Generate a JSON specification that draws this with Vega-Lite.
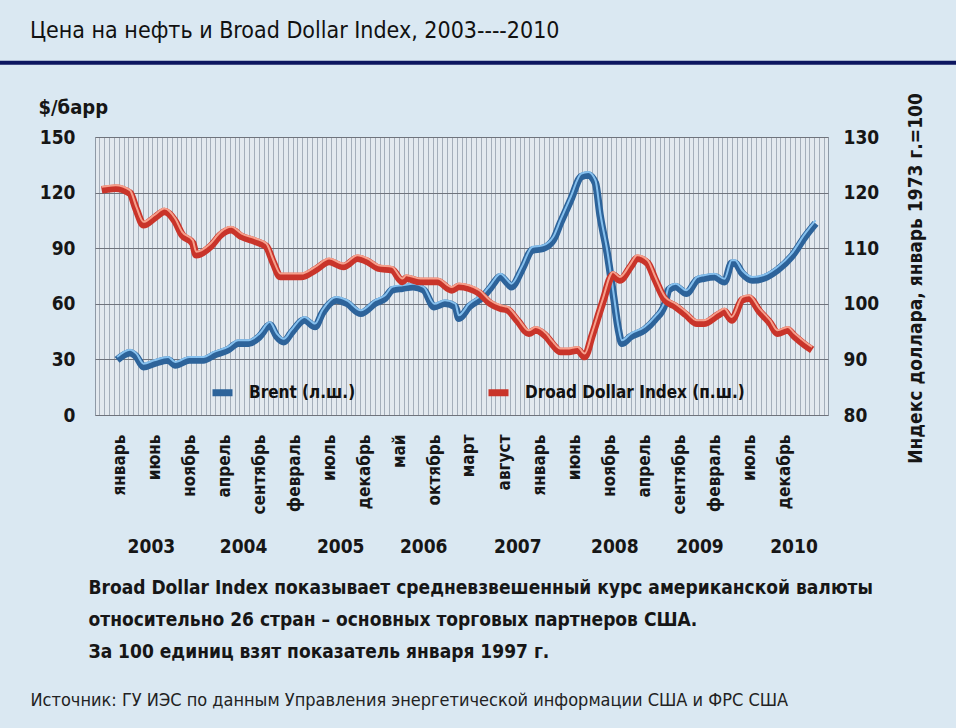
{
  "$schema": "https://vega.github.io/schema/vega-lite/v6.json",
  "width": 733,
  "height": 278,
  "autosize": {"type": "none"},
  "padding": {"left": 95, "top": 137, "right": 128, "bottom": 313},
  "background": "#dae8f2",
  "config": {
    "font": "DejaVu Sans Condensed, Liberation Sans, sans-serif",
    "view": {"fill": "#e3e9ef", "stroke": "#8e99a6", "strokeWidth": 1},
    "axis": {
      "labelFont": "DejaVu Sans Condensed, Liberation Sans, sans-serif",
      "titleFont": "DejaVu Sans Condensed, Liberation Sans, sans-serif",
      "labelFontWeight": "bold",
      "titleFontWeight": "bold",
      "labelColor": "#161616",
      "titleColor": "#161616",
      "ticks": false,
      "domain": false
    },
    "legend": {"labelFont": "DejaVu Sans Condensed, Liberation Sans, sans-serif"}
  },
  "title": {
    "text": "Цена на нефть и Broad Dollar Index, 2003----2010",
    "anchor": "start",
    "frame": "group",
    "dx": -65,
    "offset": 18,
    "fontSize": 23,
    "fontWeight": "normal",
    "font": "DejaVu Sans Condensed, Liberation Sans, sans-serif",
    "color": "#111111"
  },
  "datasets": {
    "brent": [
      {"d": "2002-12-22", "v": 29.7}, {"d": "2003-02-16", "v": 33.6}, {"d": "2003-03-16", "v": 31.5},
      {"d": "2003-04-16", "v": 26.1}, {"d": "2003-06-01", "v": 27.9}, {"d": "2003-08-01", "v": 29.7},
      {"d": "2003-09-01", "v": 27.0}, {"d": "2003-11-01", "v": 29.7}, {"d": "2004-01-01", "v": 29.7},
      {"d": "2004-02-16", "v": 32.4}, {"d": "2004-04-16", "v": 35.1}, {"d": "2004-06-01", "v": 38.7},
      {"d": "2004-07-16", "v": 38.7}, {"d": "2004-09-01", "v": 42.3}, {"d": "2004-10-16", "v": 48.5},
      {"d": "2004-11-16", "v": 42.3}, {"d": "2004-12-16", "v": 39.5}, {"d": "2005-01-16", "v": 44.1},
      {"d": "2005-03-16", "v": 51.3}, {"d": "2005-05-01", "v": 47.7}, {"d": "2005-06-01", "v": 54.9},
      {"d": "2005-08-01", "v": 62.1}, {"d": "2005-09-16", "v": 60.3}, {"d": "2005-11-16", "v": 54.9},
      {"d": "2006-01-16", "v": 60.3}, {"d": "2006-03-01", "v": 63.0}, {"d": "2006-04-01", "v": 67.5},
      {"d": "2006-05-16", "v": 68.4}, {"d": "2006-07-01", "v": 69.2}, {"d": "2006-08-16", "v": 67.5},
      {"d": "2006-10-01", "v": 58.4}, {"d": "2006-11-16", "v": 60.3}, {"d": "2007-01-01", "v": 58.4},
      {"d": "2007-01-16", "v": 52.2}, {"d": "2007-03-01", "v": 58.4}, {"d": "2007-05-01", "v": 63.8},
      {"d": "2007-06-01", "v": 68.4}, {"d": "2007-07-16", "v": 74.6}, {"d": "2007-08-16", "v": 71.1},
      {"d": "2007-09-01", "v": 69.2}, {"d": "2007-10-16", "v": 78.2}, {"d": "2007-12-01", "v": 89.0},
      {"d": "2008-01-16", "v": 89.9}, {"d": "2008-03-01", "v": 94.4}, {"d": "2008-04-01", "v": 103.4},
      {"d": "2008-05-16", "v": 116.0}, {"d": "2008-07-01", "v": 128.6}, {"d": "2008-08-01", "v": 129.5},
      {"d": "2008-09-01", "v": 125.0}, {"d": "2008-09-22", "v": 107.0}, {"d": "2008-10-22", "v": 87.3},
      {"d": "2008-11-19", "v": 63.8}, {"d": "2008-12-10", "v": 45.9}, {"d": "2008-12-25", "v": 38.7},
      {"d": "2009-02-01", "v": 42.3}, {"d": "2009-04-01", "v": 45.9}, {"d": "2009-05-16", "v": 51.3},
      {"d": "2009-07-01", "v": 60.3}, {"d": "2009-07-16", "v": 67.5}, {"d": "2009-08-16", "v": 69.2},
      {"d": "2009-10-01", "v": 65.7}, {"d": "2009-11-16", "v": 72.8}, {"d": "2009-12-16", "v": 73.8},
      {"d": "2010-02-01", "v": 74.6}, {"d": "2010-03-16", "v": 71.9}, {"d": "2010-04-16", "v": 81.9},
      {"d": "2010-05-01", "v": 81.9}, {"d": "2010-06-01", "v": 76.5}, {"d": "2010-07-16", "v": 72.8},
      {"d": "2010-09-16", "v": 74.6}, {"d": "2010-11-01", "v": 78.2}, {"d": "2011-01-01", "v": 85.4},
      {"d": "2011-03-01", "v": 96.2}, {"d": "2011-04-16", "v": 103.4}
    ],
    "dollar": [
      {"d": "2002-10-16", "v": 120.5}, {"d": "2002-12-16", "v": 120.8}, {"d": "2003-02-16", "v": 119.9},
      {"d": "2003-03-16", "v": 116.9}, {"d": "2003-04-16", "v": 114.2}, {"d": "2003-06-01", "v": 115.4},
      {"d": "2003-07-16", "v": 116.6}, {"d": "2003-09-01", "v": 114.8}, {"d": "2003-10-01", "v": 112.4},
      {"d": "2003-11-16", "v": 110.9}, {"d": "2003-12-01", "v": 108.8}, {"d": "2004-02-01", "v": 110.3},
      {"d": "2004-03-16", "v": 112.4}, {"d": "2004-05-01", "v": 113.3}, {"d": "2004-06-16", "v": 112.1},
      {"d": "2004-08-16", "v": 111.2}, {"d": "2004-10-01", "v": 110.3}, {"d": "2004-11-01", "v": 107.3},
      {"d": "2004-12-01", "v": 104.9}, {"d": "2005-03-01", "v": 104.9}, {"d": "2005-05-01", "v": 106.1},
      {"d": "2005-07-01", "v": 107.6}, {"d": "2005-09-01", "v": 106.7}, {"d": "2005-11-01", "v": 108.2},
      {"d": "2005-12-16", "v": 107.6}, {"d": "2006-02-01", "v": 106.4}, {"d": "2006-04-01", "v": 106.1},
      {"d": "2006-05-16", "v": 104.0}, {"d": "2006-06-01", "v": 104.6}, {"d": "2006-08-01", "v": 104.0},
      {"d": "2006-10-16", "v": 104.0}, {"d": "2006-12-16", "v": 102.5}, {"d": "2007-01-16", "v": 103.1},
      {"d": "2007-03-01", "v": 102.8}, {"d": "2007-04-16", "v": 101.9}, {"d": "2007-06-01", "v": 100.1},
      {"d": "2007-07-16", "v": 99.2}, {"d": "2007-08-16", "v": 98.9}, {"d": "2007-10-01", "v": 96.8},
      {"d": "2007-11-16", "v": 94.7}, {"d": "2007-12-16", "v": 95.3}, {"d": "2008-02-01", "v": 94.1},
      {"d": "2008-03-01", "v": 92.6}, {"d": "2008-04-01", "v": 91.4}, {"d": "2008-05-01", "v": 91.4},
      {"d": "2008-06-16", "v": 91.7}, {"d": "2008-07-16", "v": 90.5}, {"d": "2008-08-16", "v": 94.1},
      {"d": "2008-10-01", "v": 100.1}, {"d": "2008-11-16", "v": 105.2}, {"d": "2008-12-16", "v": 104.3},
      {"d": "2009-02-01", "v": 106.7}, {"d": "2009-03-01", "v": 108.2}, {"d": "2009-04-16", "v": 107.3},
      {"d": "2009-05-16", "v": 104.6}, {"d": "2009-07-01", "v": 100.7}, {"d": "2009-08-16", "v": 99.5},
      {"d": "2009-10-01", "v": 98.0}, {"d": "2009-11-16", "v": 96.5}, {"d": "2009-12-16", "v": 96.5},
      {"d": "2010-02-16", "v": 98.0}, {"d": "2010-03-16", "v": 98.6}, {"d": "2010-04-16", "v": 97.1},
      {"d": "2010-06-01", "v": 100.7}, {"d": "2010-07-01", "v": 101.0}, {"d": "2010-08-16", "v": 98.6},
      {"d": "2010-10-01", "v": 96.5}, {"d": "2010-11-01", "v": 94.7}, {"d": "2010-12-16", "v": 95.3},
      {"d": "2011-01-16", "v": 94.1}, {"d": "2011-03-01", "v": 92.6}, {"d": "2011-04-01", "v": 91.7}
    ]
  },
  "resolve": {
    "scale": {"y": "independent"},
    "axis": {"x": "independent", "y": "independent"}
  },
  "layer": [
    {
      "data": {"name": "brent"},
      "mark": {"type": "point", "opacity": 0},
      "encoding": {
        "x": {
          "field": "d",
          "type": "temporal",
          "scale": {
            "type": "utc",
            "domain": [
              {"year": 2002, "month": 9, "date": 17, "utc": true},
              {"year": 2011, "month": 6, "date": 9, "utc": true}
            ]
          },
          "axis": {
            "orient": "bottom",
            "labels": false,
            "grid": true,
            "gridColor": "#a4aeba",
            "gridWidth": 1,
            "tickCount": {"interval": "week", "step": 3},
            "title": "Источник: ГУ ИЭС по данным Управления энергетической информации США и ФРС США",
            "titleFontWeight": "normal",
            "titleFontSize": 18,
            "titleColor": "#222222",
            "titleAlign": "left",
            "titleAnchor": "start",
            "titleBaseline": "middle",
            "titleX": -65,
            "titleY": 285
          }
        }
      }
    },
    {
      "data": {"values": [{}]},
      "mark": {"type": "rule", "clip": false, "color": "#0c1660", "strokeWidth": 4},
      "encoding": {
        "x": {"datum": {"year": 2001, "month": 1, "date": 1, "utc": true}, "type": "temporal", "axis": null},
        "x2": {"datum": {"year": 2013, "month": 6, "date": 1, "utc": true}},
        "y": {"datum": 190, "type": "quantitative", "scale": {"domain": [0, 150], "nice": false}, "axis": null}
      }
    },
    {
      "data": {"name": "brent"},
      "mark": {"type": "line", "strokeWidth": 7.5, "interpolate": "monotone", "strokeJoin": "round"},
      "encoding": {
        "x": {
          "field": "d",
          "type": "temporal",
          "axis": {
            "orient": "bottom",
            "values": [
              {"year": 2003, "month": 1, "date": 1, "utc": true},
              {"year": 2003, "month": 6, "date": 1, "utc": true},
              {"year": 2003, "month": 11, "date": 1, "utc": true},
              {"year": 2004, "month": 4, "date": 1, "utc": true},
              {"year": 2004, "month": 9, "date": 1, "utc": true},
              {"year": 2005, "month": 2, "date": 1, "utc": true},
              {"year": 2005, "month": 7, "date": 1, "utc": true},
              {"year": 2005, "month": 12, "date": 1, "utc": true},
              {"year": 2006, "month": 5, "date": 1, "utc": true},
              {"year": 2006, "month": 10, "date": 1, "utc": true},
              {"year": 2007, "month": 3, "date": 1, "utc": true},
              {"year": 2007, "month": 8, "date": 1, "utc": true},
              {"year": 2008, "month": 1, "date": 1, "utc": true},
              {"year": 2008, "month": 6, "date": 1, "utc": true},
              {"year": 2008, "month": 11, "date": 1, "utc": true},
              {"year": 2009, "month": 4, "date": 1, "utc": true},
              {"year": 2009, "month": 9, "date": 1, "utc": true},
              {"year": 2010, "month": 2, "date": 1, "utc": true},
              {"year": 2010, "month": 7, "date": 1, "utc": true},
              {"year": 2010, "month": 12, "date": 1, "utc": true}
            ],
            "labelExpr": "['январь','февраль','март','апрель','май','июнь','июль','август','сентябрь','октябрь','ноябрь','декабрь'][utcmonth(datum.value)]",
            "labelAngle": 270,
            "labelAlign": "right",
            "labelBaseline": "middle",
            "labelFontSize": 17,
            "labelPadding": 19,
            "grid": false,
            "title": null
          }
        },
        "y": {
          "field": "v",
          "type": "quantitative",
          "scale": {"domain": [0, 150], "nice": false},
          "axis": {
            "orient": "left",
            "values": [0, 30, 60, 90, 120, 150],
            "labelFontSize": 19,
            "labelPadding": 20,
            "grid": true,
            "gridColor": "#6f737c",
            "gridWidth": 1.2,
            "title": "$/барр",
            "titleAngle": 0,
            "titleAlign": "left",
            "titleBaseline": "alphabetic",
            "titleFontSize": 20,
            "titleX": -57,
            "titleY": -24
          }
        },
        "color": {
          "datum": "Brent (л.ш.)",
          "scale": {
            "domain": ["Brent (л.ш.)", "Droad Dollar Index (п.ш.)"],
            "range": ["#2d639a", "#c9342a"]
          },
          "legend": {
            "orient": "none",
            "legendX": 114,
            "legendY": 242,
            "direction": "horizontal",
            "title": null,
            "padding": 0,
            "symbolType": "stroke",
            "symbolStrokeWidth": 7,
            "symbolSize": 400,
            "labelFontSize": 17,
            "labelFontWeight": "bold",
            "labelColor": "#111111",
            "labelLimit": 400,
            "labelOffset": 13,
            "columnPadding": 118
          }
        }
      }
    },
    {
      "data": {"name": "brent"},
      "mark": {"type": "line", "strokeWidth": 2, "yOffset": -3, "interpolate": "monotone", "color": "#86c0ee"},
      "encoding": {
        "x": {"field": "d", "type": "temporal", "axis": null},
        "y": {"field": "v", "type": "quantitative", "scale": {"domain": [0, 150], "nice": false}, "axis": null}
      }
    },
    {
      "data": {"name": "dollar"},
      "mark": {"type": "line", "strokeWidth": 7.5, "interpolate": "monotone", "strokeJoin": "round"},
      "encoding": {
        "x": {
          "field": "d",
          "type": "temporal",
          "axis": {
            "orient": "bottom",
            "offset": 120,
            "values": [
              {"year": 2003, "month": 5, "date": 18, "utc": true},
              {"year": 2004, "month": 6, "date": 22, "utc": true},
              {"year": 2005, "month": 8, "date": 18, "utc": true},
              {"year": 2006, "month": 8, "date": 14, "utc": true},
              {"year": 2007, "month": 9, "date": 27, "utc": true},
              {"year": 2008, "month": 11, "date": 22, "utc": true},
              {"year": 2009, "month": 11, "date": 27, "utc": true},
              {"year": 2011, "month": 1, "date": 10, "utc": true}
            ],
            "labelExpr": "'' + (utcyear(datum.value) - (utcmonth(datum.value) == 0 ? 1 : 0))",
            "labelFontSize": 19,
            "labelPadding": 2,
            "labelBaseline": "top",
            "grid": false,
            "title": [
              "Broad Dollar Index показывает средневзвешенный курс американской валюты",
              "относительно 26 стран – основных торговых партнеров США.",
              "За 100 единиц взят показатель января 1997 г."
            ],
            "titleFontSize": 19,
            "titleLineHeight": 32,
            "titleAlign": "left",
            "titleAnchor": "start",
            "titleBaseline": "top",
            "titleX": -7,
            "titleY": 43
          }
        },
        "y": {
          "field": "v",
          "type": "quantitative",
          "scale": {"domain": [80, 130], "nice": false},
          "axis": {
            "orient": "right",
            "values": [80, 90, 100, 110, 120, 130],
            "labelFontSize": 19,
            "labelPadding": 15,
            "grid": false,
            "title": "Индекс доллара, январь 1973 г.=100",
            "titleAngle": 270,
            "titleAlign": "center",
            "titleBaseline": "middle",
            "titleFontSize": 19,
            "titleX": 87,
            "titleY": 141
          }
        },
        "color": {
          "datum": "Droad Dollar Index (п.ш.)",
          "legend": {
            "orient": "none",
            "legendX": 114,
            "legendY": 242,
            "direction": "horizontal",
            "title": null,
            "padding": 0,
            "symbolType": "stroke",
            "symbolStrokeWidth": 7,
            "symbolSize": 400,
            "labelFontSize": 17,
            "labelFontWeight": "bold",
            "labelColor": "#111111",
            "labelLimit": 400,
            "labelOffset": 13,
            "columnPadding": 118
          }
        }
      }
    },
    {
      "data": {"name": "dollar"},
      "mark": {"type": "line", "strokeWidth": 2, "yOffset": -3, "interpolate": "monotone", "color": "#f6a08c"},
      "encoding": {
        "x": {"field": "d", "type": "temporal", "axis": null},
        "y": {"field": "v", "type": "quantitative", "scale": {"domain": [80, 130], "nice": false}, "axis": null}
      }
    }
  ]
}
